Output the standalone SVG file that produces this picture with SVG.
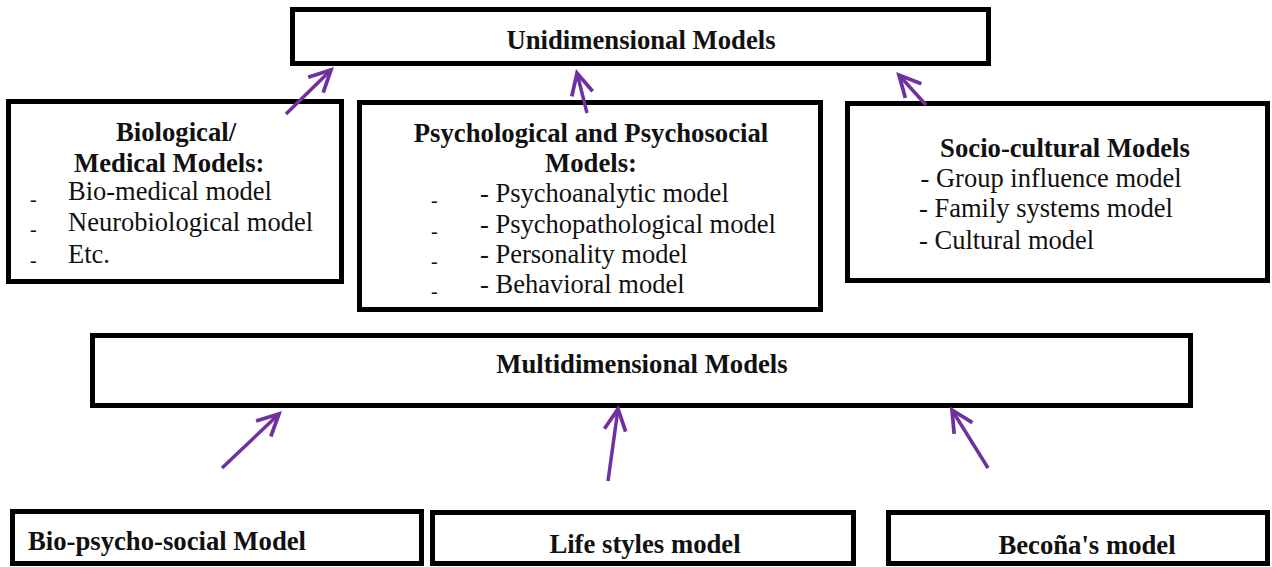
<svg xmlns="http://www.w3.org/2000/svg" width="1272" height="567" viewBox="0 0 1272 567">
<style>
.box{fill:#fff;stroke:#000;stroke-width:5}
.t{font-family:"Liberation Serif","Times New Roman",serif;fill:#111;font-size:26.5px}
.b{font-weight:bold;font-size:26.7px}
.c{text-anchor:middle}
.d{font-size:20px}
.conn{stroke:#7030A0;stroke-width:3.5;fill:none;marker-end:url(#ah)}
</style>
<defs>
<marker id="ah" markerUnits="userSpaceOnUse" markerWidth="30" markerHeight="30" viewBox="-24 -14 28 28" refX="0" refY="0" orient="auto" overflow="visible">
<path d="M-20,-10 L0,0 L-20,10" fill="none" stroke="#7030A0" stroke-width="3.5" stroke-linejoin="miter"/>
</marker>
</defs>
<rect width="1272" height="567" fill="#fff"/>
<g id="unidimensional">
<rect class="box" x="292.5" y="9.5" width="696" height="54"/>
<text class="t b c" x="641" y="48.5">Unidimensional Models</text>
</g>
<g id="biological">
<rect class="box" x="8.5" y="101.5" width="333" height="180"/>
<text class="t b" x="116" y="140.5">Biological/</text>
<text class="t b" x="74" y="171.5">Medical Models:</text>
<text class="t d" x="30" y="206">-</text>
<text class="t d" x="30" y="236">-</text>
<text class="t d" x="30" y="267">-</text>
<text class="t" x="68" y="200">Bio-medical model</text>
<text class="t" x="68" y="231">Neurobiological model</text>
<text class="t" x="68" y="262.5">Etc.</text>
</g>
<g id="psychological">
<rect class="box" x="359.5" y="102.5" width="461" height="207"/>
<text class="t b c" x="591" y="141.5">Psychological and Psychosocial</text>
<text class="t b c" x="591" y="171.5">Models:</text>
<text class="t d" x="431" y="207">-</text>
<text class="t d" x="431" y="238">-</text>
<text class="t d" x="431" y="268">-</text>
<text class="t d" x="431" y="298">-</text>
<text class="t" x="480" y="201.5">- Psychoanalytic model</text>
<text class="t" x="480" y="232.5">- Psychopathological model</text>
<text class="t" x="480" y="263">- Personality model</text>
<text class="t" x="480" y="293">- Behavioral model</text>
</g>
<g id="sociocultural">
<rect class="box" x="847.5" y="103.5" width="420" height="177"/>
<text class="t b c" x="1065" y="156.5">Socio-cultural Models</text>
<text class="t" x="920.5" y="186.5">- Group influence model</text>
<text class="t" x="919" y="216.5">- Family systems model</text>
<text class="t" x="919" y="249">- Cultural model</text>
</g>
<g id="multidimensional">
<rect class="box" x="92.5" y="335.5" width="1098" height="70"/>
<text class="t b c" x="642" y="373">Multidimensional Models</text>
</g>
<g id="biopsychosocial">
<rect class="box" x="12.5" y="511.5" width="409" height="52"/>
<text class="t b" x="28" y="549.5">Bio-psycho-social Model</text>
</g>
<g id="lifestyles">
<rect class="box" x="432.5" y="512.5" width="421" height="51"/>
<text class="t b c" x="645" y="553">Life styles model</text>
</g>
<g id="becona">
<rect class="box" x="888.5" y="512.5" width="379" height="51"/>
<text class="t b c" x="1087" y="554">Becoña's model</text>
</g>
<g id="connectors">
<line class="conn" x1="286" y1="114" x2="331" y2="70"/>
<line class="conn" x1="587" y1="113" x2="577" y2="73"/>
<line class="conn" x1="926" y1="105" x2="899" y2="75"/>
<line class="conn" x1="222" y1="468" x2="279" y2="414"/>
<line class="conn" x1="608" y1="481" x2="618" y2="409"/>
<line class="conn" x1="988" y1="468" x2="952" y2="410"/>
</g>
</svg>
